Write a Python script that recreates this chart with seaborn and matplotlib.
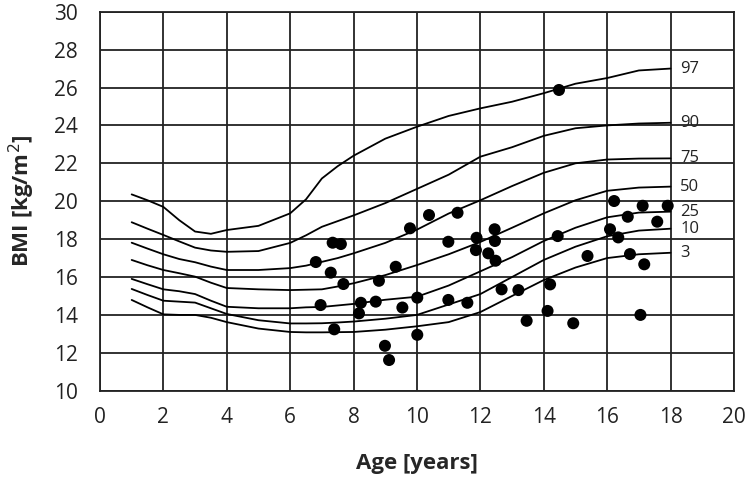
import numpy as np
import pandas as pd
import matplotlib
matplotlib.use("Agg")
import matplotlib.pyplot as plt
import seaborn as sns

# percentile curves, ages in years
ages = [1, 1.5, 2, 2.5, 3, 3.5, 4, 5, 6, 6.5, 7, 7.5, 8, 9, 10, 11, 12, 13, 14, 15, 16, 17, 18]

p97 = [20.36, 20.05, 19.7, 19.0, 18.4, 18.28, 18.48, 18.7, 19.36, 20.1, 21.2, 21.85, 22.4,
       23.3, 23.93, 24.5, 24.9, 25.25, 25.7, 26.2, 26.5, 26.9, 27.0]
p90 = [18.89, 18.55, 18.22, 17.88, 17.55, 17.4, 17.33, 17.37, 17.8, 18.2, 18.65, 18.95, 19.25,
       19.9, 20.65, 21.4, 22.35, 22.85, 23.45, 23.85, 24.0, 24.1, 24.14]
p75 = [17.81, 17.5, 17.2, 16.95, 16.78, 16.55, 16.37, 16.37, 16.47, 16.6, 16.8, 17.0, 17.25,
       17.8, 18.5, 19.35, 20.05, 20.8, 21.5, 22.0, 22.2, 22.25, 22.26]
p50 = [16.9, 16.62, 16.37, 16.2, 16.02, 15.7, 15.42, 15.35, 15.31, 15.33, 15.35, 15.5, 15.67,
       16.1, 16.63, 17.2, 17.85, 18.6, 19.36, 20.05, 20.55, 20.72, 20.77]
p25 = [15.9, 15.62, 15.35, 15.25, 15.1, 14.75, 14.43, 14.35, 14.35, 14.4, 14.42, 14.5, 14.58,
       14.8, 14.96, 15.55, 16.3, 17.05, 17.9, 18.6, 19.15, 19.4, 19.45]
p10 = [15.37, 15.05, 14.75, 14.7, 14.65, 14.35, 14.05, 13.72, 13.55, 13.55, 13.56, 13.6, 13.65,
       13.8, 14.0, 14.55, 15.1, 16.0, 16.9, 17.6, 18.15, 18.45, 18.55]
p3 = [14.79, 14.4, 14.03, 14.0, 14.0, 13.85, 13.62, 13.28, 13.1, 13.08, 13.08, 13.09, 13.1,
      13.22, 13.4, 13.62, 14.15, 15.0, 15.84, 16.5, 17.0, 17.2, 17.28]

pct_labels = ["97", "90", "75", "50", "25", "10", "3"]
pct_values = [p97, p90, p75, p50, p25, p10, p3]

# patients
pt_age = [14.48, 6.81, 6.96, 7.28, 7.34, 7.6, 7.68, 7.39, 8.23, 8.17, 8.7, 8.8, 9.33, 9.78,
          9.54, 8.99, 9.12, 10.01, 10.01, 10.99, 11.59, 12.67, 13.2, 13.46, 14.12, 14.2,
          14.93, 14.44, 15.38, 17.05, 17.17, 16.72, 16.35, 16.09, 16.65, 17.58, 16.22, 17.12,
          17.91, 10.38, 11.28, 10.99, 11.88, 11.86, 12.25, 12.45, 12.46, 12.48]
pt_bmi = [25.87, 16.79, 14.52, 16.23, 17.81, 17.74, 15.63, 13.24, 14.64, 14.08, 14.7, 15.8,
          16.54, 18.57, 14.39, 12.37, 11.62, 14.91, 12.95, 14.79, 14.64, 15.35, 15.31, 13.69,
          14.21, 15.61, 13.56, 18.16, 17.11, 14.0, 16.67, 17.21, 18.09, 18.52, 19.18, 18.92,
          20.01, 19.76, 19.76, 19.27, 19.39, 17.86, 18.07, 17.42, 17.25, 18.52, 17.9, 16.86]

curves = pd.concat(
    [pd.DataFrame({"age": ages, "bmi": v, "pct": lab}) for lab, v in zip(pct_labels, pct_values)],
    ignore_index=True,
)
points = pd.DataFrame({"age": pt_age, "bmi": pt_bmi})

sns.set_style("white")
plt.rcParams["font.family"] = ["Open Sans", "DejaVu Sans"]

fig = plt.figure(figsize=(7.5, 4.78), dpi=100)
ax = fig.add_axes([0.1333, 0.1826, 0.8453, 0.7929])

sns.lineplot(data=curves, x="age", y="bmi", hue="pct", palette=["black"] * 7,
             legend=False, linewidth=1.3, ax=ax, zorder=3)
sns.scatterplot(data=points, x="age", y="bmi", color="black", s=75, edgecolor="none",
                ax=ax, zorder=4)

for lab, v in zip(pct_labels, pct_values):
    ax.text(18.3, v[-1], lab, fontsize=12, va="center", ha="left", color="#222222")

ax.set_xlim(0, 20)
ax.set_ylim(10, 30)
ax.set_xticks(np.arange(0, 21, 2))
ax.set_yticks(np.arange(10, 31, 2))
ax.grid(True, color="#222222", linewidth=1.3)
ax.set_axisbelow(True)
for s in ax.spines.values():
    s.set_color("#222222")
    s.set_linewidth(1.3)

ax.tick_params(axis="both", direction="out", length=7, width=1.2, color="#222222",
               labelsize=15, labelcolor="#222222", pad=5)
ax.tick_params(axis="y", pad=9)
ax.set_xlabel("Age [years]", fontsize=16, fontweight="bold", labelpad=18)
ax.set_ylabel("BMI [kg/m$^2$]", fontsize=16, fontweight="bold", labelpad=12)

fig.savefig("out.png", dpi=100)
